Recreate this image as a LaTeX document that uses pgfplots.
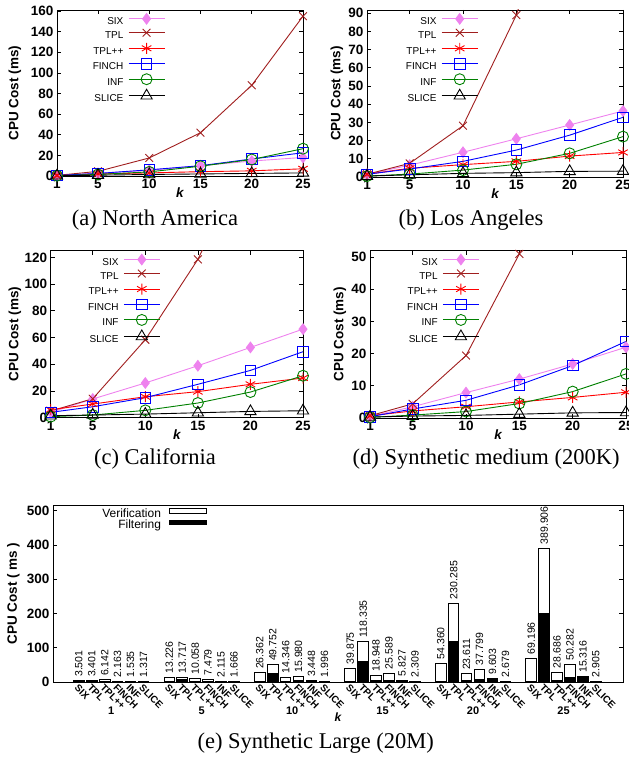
\documentclass[border=0pt]{standalone}
\usepackage{fontspec}
\setmainfont{Liberation Serif}
\setsansfont{Liberation Sans}
\usepackage{pgfplots}
\pgfplotsset{compat=1.18}
\usepackage{pgfplotstable}

\definecolor{cSIX}{RGB}{238,130,238}
\definecolor{cTPL}{RGB}{160,30,30}
\definecolor{cTPLpp}{RGB}{255,0,0}
\definecolor{cFINCH}{RGB}{0,0,255}
\definecolor{cINF}{RGB}{0,128,0}
\definecolor{cSLICE}{RGB}{0,0,0}

\newcommand\tickfont{\sffamily\bfseries\fontsize{13.5bp}{15bp}\selectfont}
\newcommand\legfont{\sffamily\fontsize{10bp}{12bp}\selectfont}
\newcommand\capfont{\rmfamily\fontsize{22.5bp}{26bp}\selectfont}

\pgfplotstableread{
x total filt label
2  3.501   0.3  3.501
3  3.401   2.0  3.401
4  6.142   0.8  6.142
5  2.163   0.6  2.163
6  1.535   1.4  1.535
7  1.317   0.5  1.317
9  13.226  0.5  13.226
10 13.717  6.5  13.717
11 10.058  1.5  10.058
12 7.479   1.8  7.479
13 2.115   2.0  2.115
14 1.666   0.6  1.666
16 26.362  0.8  26.362
17 49.752  26.0 49.752
18 14.346  2.5  14.346
19 15.980  3.2  15.980
20 3.448   3.2  3.448
21 1.996   0.8  1.996
23 39.875  1.0  39.875
24 118.335 59.0 118.335
25 18.948  3.5  18.948
26 25.589  5.5  25.589
27 5.827   5.5  5.827
28 2.309   1.0  2.309
30 54.360  1.2  54.360
31 230.285 117.0 230.285
32 23.611  4.0  23.611
33 37.799  8.5  37.799
34 9.603   9.0  9.603
35 2.679   1.2  2.679
37 69.196  1.5  69.196
38 389.906 199.0 389.906
39 28.686  5.0  28.686
40 50.282  14.5 50.282
41 15.316  14.0 15.316
42 2.905   1.3  2.905
}\bardata

\pgfplotsset{
 sSIX/.style={color=cSIX, mark=diamond*, mark size=5.3bp, line width=0.9bp, mark options={solid, fill=cSIX}},
 sTPL/.style={color=cTPL, mark=x, mark size=5.5bp, line width=0.9bp},
 sTPLpp/.style={color=cTPLpp, mark=asterisk, mark size=5.5bp, line width=0.9bp},
 sFINCH/.style={color=cFINCH, mark=square, mark size=5.3bp, line width=0.9bp},
 sINF/.style={color=cINF, mark=o, mark size=5.5bp, line width=0.9bp},
 sSLICE/.style={color=cSLICE, mark=triangle, mark size=6.5bp, line width=0.9bp},
 ylab/.style={every axis y label/.style={at={(rel axis cs:0,0.5)}, xshift=-#1, rotate=90, anchor=center, font=\tickfont}},
 linechart/.style={
   scale only axis, xmin=1, xmax=25, ymin=0,
   xtick={1,5,10,15,20,25},
   tick align=inside, major tick length=4bp,
   every tick/.style={black, line width=0.7bp},
   axis line style={line width=0.9bp},
   tick label style={font=\tickfont},
   /pgf/number format/assume math mode=true,
   xlabel={\itshape k},
   every axis x label/.style={at={(rel axis cs:0.5,0)}, anchor=center, yshift=-17bp, font=\tickfont},
   ylabel={CPU Cost (ms)},
   legend style={draw=none, fill=none, at={(0.44,0.98)}, anchor=north east, font=\legfont, inner sep=0pt,
     nodes={inner sep=1.75bp, text height=7.5bp, text depth=2.5bp}, row sep=0pt,
     /tikz/every odd column/.append style={column sep=3bp}},
   legend plot pos=right, legend cell align=right,
   legend image code/.code={\draw[##1, mark indices={2}] plot coordinates {(0bp,3.3bp) (18bp,3.3bp) (36bp,3.3bp)};},
 },
}

\begin{document}
\begin{tikzpicture}
% (a) North America
\begin{axis}[linechart, width=246bp, height=166bp, at={(57bp,-176bp)}, anchor=south west,
  ymax=161, ytick={0,20,...,160}, ylab=42bp]
\addplot[sSIX] coordinates {(1,0.5)(5,2.5)(10,5.5)(15,10)(20,14.5)(25,18)};
\addplot[sTPL] coordinates {(1,0.6)(5,4.5)(10,17.5)(15,42)(20,88)(25,155)};
\addplot[sTPLpp] coordinates {(1,0.5)(5,2)(10,3)(15,4.2)(20,5)(25,7)};
\addplot[sFINCH] coordinates {(1,0.5)(5,2.5)(10,6)(15,10)(20,16.5)(25,22.5)};
\addplot[sINF] coordinates {(1,0.3)(5,1.5)(10,4)(15,9.5)(20,16)(25,26.5)};
\addplot[sSLICE] coordinates {(1,0.2)(5,0.8)(10,1.5)(15,2)(20,2.5)(25,3)};
\legend{SIX,TPL,TPL++,FINCH,INF,SLICE}
\end{axis}
% (b) Los Angeles
\begin{axis}[linechart, width=256bp, height=167bp, at={(367bp,-177bp)}, anchor=south west,
  ymax=91.8, ytick={0,10,...,90}, ylab=30bp, legend style={at={(0.435,0.98)}}]
\addplot[sSIX] coordinates {(1,1.5)(5,6.5)(10,13.6)(15,21)(20,28.6)(25,36.3)};
\addplot[sTPL, mark indices={1,2,3,4}] coordinates {(1,1.5)(5,7.5)(10,28.2)(15,89)(20,180)(25,300)};
\addplot[sTPLpp] coordinates {(1,1.5)(5,4.8)(10,6.8)(15,8.6)(20,11.5)(25,13.5)};
\addplot[sFINCH] coordinates {(1,1.5)(5,4.4)(10,8.6)(15,14.8)(20,23)(25,32.8)};
\addplot[sINF] coordinates {(1,0.5)(5,1.6)(10,3.8)(15,7)(20,13)(25,22.2)};
\addplot[sSLICE] coordinates {(1,0.5)(5,1.2)(10,2)(15,2.4)(20,3.1)(25,3.2)};
\legend{SIX,TPL,TPL++,FINCH,INF,SLICE}
\end{axis}
% (c) California
\begin{axis}[linechart, width=252.3bp, height=167bp, at={(50.7bp,-417.7bp)}, anchor=south west,
  ymax=125, ytick={0,20,...,120}, ylab=35.7bp, legend style={at={(0.435,0.98)}}]
\addplot[sSIX] coordinates {(1,4)(5,14)(10,26)(15,38.9)(20,52.6)(25,66.3)};
\addplot[sTPL, mark indices={1,2,3,4}] coordinates {(1,5)(5,14.2)(10,58.4)(15,118.5)(20,200)(25,330)};
\addplot[sTPLpp] coordinates {(1,6)(5,10.2)(10,15.7)(15,19.5)(20,25)(25,29.7)};
\addplot[sFINCH] coordinates {(1,4)(5,8.2)(10,15)(15,25)(20,35.4)(25,49.4)};
\addplot[sINF] coordinates {(1,0.8)(5,2)(10,5.5)(15,11)(20,19.2)(25,31.4)};
\addplot[sSLICE] coordinates {(1,1.5)(5,2)(10,2.7)(15,3.7)(20,4.7)(25,5.2)};
\legend{SIX,TPL,TPL++,FINCH,INF,SLICE}
\end{axis}
% (d) Synthetic medium
\begin{axis}[linechart, width=256bp, height=167.3bp, at={(370bp,-418bp)}, anchor=south west,
  ymax=52, ytick={0,10,...,50}, ylab=30bp, legend style={at={(0.428,0.98)}}]
\addplot[sSIX] coordinates {(1,0.5)(5,3.5)(10,7.9)(15,12.1)(20,16.8)(25,22)};
\addplot[sTPL, mark indices={1,2,3,4}] coordinates {(1,0.7)(5,4.4)(10,19.4)(15,51)(20,100)(25,170)};
\addplot[sTPLpp] coordinates {(1,0.7)(5,2.2)(10,3.5)(15,5)(20,6.4)(25,8)};
\addplot[sFINCH] coordinates {(1,0.4)(5,2.8)(10,5.5)(15,10.3)(20,16.3)(25,23.8)};
\addplot[sINF] coordinates {(1,0.2)(5,0.9)(10,2)(15,4.5)(20,8.2)(25,13.7)};
\addplot[sSLICE] coordinates {(1,0.3)(5,0.6)(10,0.8)(15,1.2)(20,1.6)(25,1.7)};
\legend{SIX,TPL,TPL++,FINCH,INF,SLICE}
\end{axis}
% (e) Synthetic Large
\begin{axis}[scale only axis, width=570bp, height=176.7bp, at={(53bp,-682bp)}, anchor=south west,
  xmin=0, xmax=44.1, ymin=0, ymax=515.5,
  ytick={0,100,...,500}, ytick pos=both, tick align=inside, major tick length=4bp,
  every tick/.style={black, line width=0.7bp},
  axis line style={line width=0.9bp},
  yticklabel style={font=\tickfont},
  /pgf/number format/assume math mode=true,
  xtick={2,3,4,5,6,7,9,10,11,12,13,14,16,17,18,19,20,21,23,24,25,26,27,28,30,31,32,33,34,35,37,38,39,40,41,42},
  xticklabels={SIX,TPL,TPL++,FINCH,INF,SLICE,SIX,TPL,TPL++,FINCH,INF,SLICE,SIX,TPL,TPL++,FINCH,INF,SLICE,SIX,TPL,TPL++,FINCH,INF,SLICE,SIX,TPL,TPL++,FINCH,INF,SLICE,SIX,TPL,TPL++,FINCH,INF,SLICE},
  xtick pos=bottom, xtick style={draw=none},
  xticklabel style={rotate=-45, anchor=north west, inner sep=1bp, font=\sffamily\bfseries\fontsize{9.8bp}{10bp}\selectfont},
  extra x ticks={4.5,11.5,18.5,25.5,32.5,39.5},
  extra x tick labels={1,5,10,15,20,25},
  extra x tick style={major tick length=0pt, xticklabel style={rotate=45, anchor=center, yshift=-29bp, font=\sffamily\bfseries\fontsize{11bp}{12bp}\selectfont}},
  xlabel={\itshape k},
  every axis x label/.style={at={(rel axis cs:0.5,0)}, anchor=center, yshift=-35bp, font=\sffamily\bfseries\fontsize{12bp}{13bp}\selectfont},
  ylabel={CPU Cost ( ms )}, ylab=39.7bp,
  legend style={draw=none, fill=none, at={(0.270,0.985)}, anchor=north east, font=\sffamily\fontsize{12bp}{13bp}\selectfont, inner sep=0pt,
     nodes={inner sep=0.75bp, text height=7bp, text depth=1.5bp}, row sep=0pt,
     /tikz/every odd column/.append style={column sep=7bp}},
  legend plot pos=right, legend cell align=right,
  legend image code/.code={\draw[#1] (0bp,1.5bp) rectangle (37bp,6bp);},
  ]
\addplot[ybar, bar width=0.82, bar shift=0pt, fill=white, draw=black, line width=1bp,
  nodes near coords, point meta=explicit symbolic,
  nodes near coords style={rotate=90, anchor=west, inner sep=3.5bp, black, font=\sffamily\fontsize{10.5bp}{11bp}\selectfont}]
  table[x=x, y=total, meta=label] {\bardata};
\addplot[ybar, bar width=0.82, bar shift=0pt, fill=black, draw=black, line width=1bp]
  table[x=x, y=filt] {\bardata};
\legend{Verification,Filtering}
\end{axis}
% captions
\node[font=\capfont, anchor=base] at (155bp,-225bp) {(a) North America};
\node[font=\capfont, anchor=base] at (471bp,-225bp) {(b) Los Angeles};
\node[font=\capfont, anchor=base] at (155bp,-464bp) {(c) California};
\node[font=\capfont, anchor=base east] at (623bp,-464bp) {(d) Synthetic medium (200K)};
\node[font=\capfont, anchor=base west] at (194bp,-748bp) {(e) Synthetic Large (20M)};
\pgfresetboundingbox
\path[use as bounding box] (0,0) rectangle (629bp,-760bp);
\end{tikzpicture}
\end{document}
